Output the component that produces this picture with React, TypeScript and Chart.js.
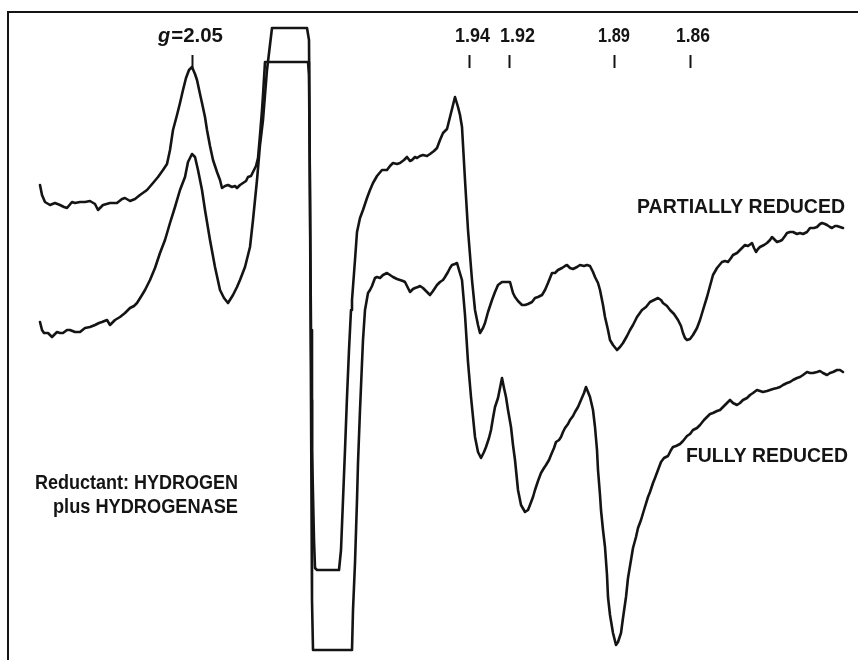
import { useEffect, useRef } from 'react';
import { Chart, registerables } from 'chart.js';

Chart.register(...registerables);

// EPR first-derivative traces: [magnetic field (mT), signal (arbitrary units)]
const partialTrace: [number, number][] = [
  [304.0, 475], [304.2, 465], [304.5, 458], [305.0, 455], [305.5, 457], [306.0, 455], [306.4, 453], [306.7, 452],
  [307.2, 458], [307.5, 457], [308.0, 458], [308.5, 458], [309.0, 459], [309.5, 456], [309.8, 450], [310.3, 455],
  [311.0, 457], [311.7, 457], [312.2, 461], [312.5, 462], [313.0, 459], [313.5, 461], [314.0, 465], [314.7, 470],
  [315.3, 477], [315.8, 483], [316.3, 490], [316.7, 496], [317.0, 510], [317.3, 530], [317.7, 545], [318.0, 557],
  [318.3, 570], [318.6, 582], [318.9, 590], [319.2, 593], [319.5, 586], [319.7, 580], [320.0, 566], [320.2, 557],
  [320.5, 543], [320.7, 530], [321.0, 514], [321.3, 500], [321.7, 488], [322.0, 480], [322.2, 472], [322.5, 474],
  [322.8, 475], [323.2, 473], [323.5, 474], [323.7, 472], [324.0, 475], [324.3, 477], [324.6, 479], [324.8, 483],
  [325.1, 484], [325.3, 488], [325.6, 494], [325.8, 502], [326.0, 525], [326.2, 550], [326.3, 565], [326.5, 598],
  [327.0, 598], [329.0, 598], [330.8, 598], [330.9, 585], [331.0, 460], [331.1, 330], [331.2, 210], [331.4, 120],
  [331.5, 92], [331.7, 90], [333.9, 90], [334.1, 110], [334.3, 160], [334.5, 210], [334.7, 263], [334.9, 310],
  [335.1, 350], [335.2, 360], [335.5, 400], [335.7, 428], [336.0, 442], [336.3, 450], [336.7, 462], [337.0, 470],
  [337.3, 477], [337.7, 484], [338.2, 490], [338.7, 490], [339.0, 494], [339.3, 497], [339.7, 496], [340.0, 497],
  [340.4, 500], [340.7, 503], [341.0, 499], [341.2, 500], [341.5, 503], [341.7, 502], [342.0, 504], [342.3, 505],
  [342.7, 504], [343.0, 506], [343.4, 509], [343.7, 512], [344.0, 520], [344.3, 527], [344.7, 531], [345.0, 543],
  [345.3, 555], [345.5, 563], [345.8, 553], [346.0, 545], [346.2, 533], [346.5, 480], [346.8, 430], [347.2, 380],
  [347.5, 350], [347.8, 335], [348.0, 327], [348.3, 332], [348.5, 337], [348.8, 348], [349.2, 360], [349.5, 368],
  [349.8, 375], [350.2, 378], [350.6, 378], [351.0, 378], [351.3, 367], [351.5, 363], [351.8, 359], [352.2, 355],
  [352.5, 355], [352.8, 356], [353.2, 358], [353.5, 362], [353.8, 363], [354.2, 365], [354.5, 370], [354.8, 377],
  [355.2, 387], [355.5, 387], [355.8, 390], [356.2, 392], [356.5, 394], [356.7, 395], [357.0, 392], [357.3, 391],
  [357.7, 393], [358.0, 395], [358.4, 394], [358.7, 395], [359.0, 394], [359.3, 388], [359.5, 383], [359.8, 377],
  [360.0, 370], [360.3, 355], [360.5, 343], [360.8, 330], [361.0, 320], [361.3, 315], [361.7, 310], [362.0, 313],
  [362.3, 317], [362.7, 324], [363.0, 330], [363.3, 335], [363.7, 343], [364.2, 350], [364.6, 353], [365.0, 358],
  [365.4, 360], [365.8, 362], [366.1, 360], [366.3, 357], [366.7, 354], [367.0, 350], [367.4, 346], [367.8, 340],
  [368.1, 334], [368.3, 327], [368.5, 322], [368.7, 320], [369.0, 321], [369.3, 325], [369.7, 332], [370.0, 340],
  [370.3, 350], [370.7, 363], [371.0, 374], [371.3, 385], [371.7, 392], [372.2, 398], [372.5, 399], [372.8, 398],
  [373.1, 402], [373.3, 405], [373.7, 407], [374.0, 410], [374.3, 413], [374.5, 415], [374.8, 414], [375.2, 417],
  [375.4, 412], [375.6, 408], [375.8, 411], [376.0, 413], [376.4, 415], [376.7, 417], [377.0, 420], [377.2, 423],
  [377.5, 420], [377.7, 418], [378.0, 419], [378.2, 420], [378.5, 424], [378.7, 427], [379.0, 428], [379.3, 428],
  [379.7, 426], [380.0, 427], [380.3, 426], [380.7, 428], [381.0, 432], [381.4, 432], [381.7, 433], [382.0, 436],
  [382.2, 437], [382.5, 436], [382.7, 435], [383.0, 433], [383.2, 432], [383.5, 434], [383.7, 434], [384.0, 433],
  [384.3, 432],
];

const fullTrace: [number, number][] = [
  [304.0, 338], [304.2, 330], [304.4, 327], [304.8, 327], [305.2, 323], [305.7, 328], [306.0, 327], [306.3, 327],
  [306.7, 330], [307.0, 330], [307.5, 328], [308.0, 328], [308.5, 332], [309.0, 333], [309.5, 335], [309.9, 337],
  [310.2, 338], [310.7, 340], [311.0, 335], [311.3, 338], [311.5, 340], [312.0, 343], [312.5, 347], [313.0, 352],
  [313.4, 354], [313.7, 357], [314.2, 365], [314.5, 370], [315.0, 380], [315.5, 392], [316.0, 407], [316.5, 420],
  [317.0, 437], [317.5, 453], [318.0, 470], [318.5, 483], [318.8, 498], [319.2, 506], [319.5, 503], [319.8, 490],
  [320.2, 470], [320.5, 450], [321.0, 420], [321.5, 393], [322.0, 370], [322.4, 362], [322.8, 357], [323.3, 365],
  [323.7, 373], [324.0, 380], [324.5, 393], [325.0, 413], [325.3, 440], [325.7, 480], [326.0, 515], [326.3, 540],
  [326.7, 590], [327.2, 632], [329.0, 632], [330.7, 632], [330.9, 620], [331.0, 460], [331.1, 260], [331.2, 60],
  [331.3, 10], [332.0, 10], [335.2, 10], [335.3, 50], [335.5, 97], [335.7, 160], [335.8, 197], [336.0, 250],
  [336.2, 297], [336.3, 320], [336.5, 350], [336.8, 367], [337.0, 370], [337.2, 374], [337.5, 382], [337.7, 383],
  [338.0, 382], [338.3, 385], [338.7, 387], [339.0, 385], [339.3, 383], [339.7, 381], [340.0, 380], [340.3, 379],
  [340.5, 378], [340.8, 372], [341.0, 368], [341.3, 371], [341.5, 372], [341.8, 373], [342.0, 374], [342.3, 372],
  [342.5, 370], [342.8, 367], [343.0, 365], [343.3, 369], [343.5, 372], [343.7, 375], [344.0, 378], [344.3, 380],
  [344.5, 383], [344.8, 388], [345.0, 392], [345.2, 395], [345.5, 396], [345.7, 397], [345.9, 390], [346.2, 380],
  [346.5, 345], [346.8, 298], [347.1, 263], [347.5, 223], [347.8, 208], [348.1, 202], [348.4, 208], [348.6, 213],
  [348.9, 222], [349.1, 230], [349.3, 242], [349.5, 253], [349.8, 262], [350.0, 272], [350.2, 282], [350.4, 272],
  [350.6, 263], [350.8, 250], [351.1, 233], [351.3, 215], [351.5, 200], [351.8, 170], [352.1, 155], [352.5, 148],
  [352.8, 150], [353.0, 155], [353.3, 163], [353.5, 170], [353.8, 179], [354.1, 187], [354.4, 192], [354.6, 195],
  [354.9, 200], [355.1, 205], [355.4, 212], [355.6, 218], [355.9, 220], [356.1, 223], [356.3, 228], [356.5, 232],
  [356.8, 236], [357.0, 240], [357.3, 244], [357.5, 248], [357.8, 253], [358.1, 260], [358.4, 267], [358.6, 273],
  [358.8, 268], [359.0, 263], [359.3, 250], [359.5, 233], [359.7, 210], [359.8, 190], [360.0, 165], [360.1, 150],
  [360.3, 130], [360.5, 113], [360.7, 85], [360.8, 63], [361.0, 45], [361.3, 27], [361.6, 15], [361.8, 18],
  [362.1, 27], [362.3, 42], [362.6, 63], [362.8, 82], [363.1, 100], [363.3, 112], [363.6, 123], [363.8, 132],
  [364.1, 140], [364.4, 150], [364.8, 163], [365.0, 168], [365.3, 177], [365.5, 182], [365.8, 190], [366.1, 198],
  [366.4, 202], [366.6, 203], [366.8, 204], [367.1, 210], [367.3, 213], [367.6, 214], [368.0, 216], [368.3, 219],
  [368.7, 224], [369.0, 226], [369.3, 230], [369.7, 232], [370.0, 235], [370.4, 240], [370.7, 243], [371.0, 246],
  [371.3, 247], [371.7, 249], [372.0, 250], [372.3, 253], [372.7, 257], [373.0, 260], [373.3, 257], [373.7, 255],
  [374.0, 257], [374.3, 260], [374.7, 262], [375.0, 265], [375.3, 267], [375.7, 270], [376.0, 269], [376.3, 268],
  [376.7, 269], [377.0, 270], [377.3, 271], [377.7, 272], [378.0, 273], [378.3, 275], [378.7, 277], [379.0, 278],
  [379.3, 280], [379.7, 282], [380.0, 283], [380.3, 285], [380.7, 288], [381.0, 287], [381.3, 287], [381.7, 288],
  [382.0, 289], [382.3, 287], [382.7, 285], [383.0, 287], [383.3, 288], [383.7, 290], [384.0, 290], [384.3, 288],
];

// g-value markers along the top of the spectrum
const gValues = ['2.05', '1.94', '1.92', '1.89', '1.86'];
const gTickField = [319.2, 346.9, 350.9, 361.4, 369.0];
const gLabelLeftField = [315.8, 345.5, 350.0, 359.8, 367.6];

const seriesNames = ['PARTIALLY REDUCED', 'FULLY REDUCED'];
const noteLines = ['Reductant: HYDROGEN', 'plus HYDROGENASE'];

// Axis extents (field in mT, signal in arbitrary units)
const FIELD_MIN = 300.8;
const FIELD_MAX = 385.8;
const SIGNAL_MIN = 0;
const SIGNAL_MAX = 648;

// Placement of text and marker strokes, in data units
const G_TICK_SPAN: [number, number] = [592, 605];
const G_LABEL_BASELINE = 618;
const G_LABEL_WIDTH = [65, 35, 35, 32, 34];
const SERIES_LABEL_RIGHT = [384.5, 384.8];
const SERIES_LABEL_BASELINE = [447, 198];
const SERIES_LABEL_WIDTH = [208, 162];
const NOTE_RIGHT = 323.8;
const NOTE_BASELINE = [171, 147];
const NOTE_WIDTH = [203, 185];

const INK = '#141414';
const FAMILY = '"Liberation Sans", Arial, sans-serif';

function fittedText(ctx: CanvasRenderingContext2D, text: string, left: number, baseline: number, width: number, font: string) {
  ctx.font = font;
  const natural = ctx.measureText(text).width;
  ctx.save();
  ctx.translate(left, baseline);
  ctx.scale(width / natural, 1);
  ctx.fillText(text, 0, 0);
  ctx.restore();
}

const annotations = {
  id: 'eprAnnotations',
  afterDatasetsDraw(chart: Chart) {
    const { ctx } = chart;
    const x = chart.scales.x;
    const y = chart.scales.y;
    ctx.save();
    ctx.fillStyle = INK;
    ctx.strokeStyle = INK;
    ctx.textAlign = 'left';
    ctx.textBaseline = 'alphabetic';

    // g-value ticks and labels
    ctx.lineWidth = 2;
    ctx.lineCap = 'butt';
    gValues.forEach((g, i) => {
      const px = Math.round(x.getPixelForValue(gTickField[i])) + 0.5;
      ctx.beginPath();
      ctx.moveTo(px, y.getPixelForValue(G_TICK_SPAN[1]));
      ctx.lineTo(px, y.getPixelForValue(G_TICK_SPAN[0]));
      ctx.stroke();

      const left = x.getPixelForValue(gLabelLeftField[i]);
      const base = y.getPixelForValue(G_LABEL_BASELINE);
      if (i === 0) {
        ctx.font = `italic bold 20px ${FAMILY}`;
        const gw = ctx.measureText('g').width;
        ctx.fillText('g', left, base);
        fittedText(ctx, `=${g}`, left + gw + 1, base, G_LABEL_WIDTH[i] - gw - 1, `bold 20px ${FAMILY}`);
      } else {
        fittedText(ctx, g, left, base, G_LABEL_WIDTH[i], `bold 20px ${FAMILY}`);
      }
    });

    // series names
    seriesNames.forEach((name, i) => {
      const right = x.getPixelForValue(SERIES_LABEL_RIGHT[i]);
      fittedText(ctx, name, right - SERIES_LABEL_WIDTH[i], y.getPixelForValue(SERIES_LABEL_BASELINE[i]), SERIES_LABEL_WIDTH[i], `bold 21px ${FAMILY}`);
    });

    // reductant note
    noteLines.forEach((line, i) => {
      const right = x.getPixelForValue(NOTE_RIGHT);
      fittedText(ctx, line, right - NOTE_WIDTH[i], y.getPixelForValue(NOTE_BASELINE[i]), NOTE_WIDTH[i], `bold 20px ${FAMILY}`);
    });

    ctx.restore();
  },
};

export default function App() {
  const canvasRef = useRef<HTMLCanvasElement>(null);

  useEffect(() => {
    const canvas = canvasRef.current;
    if (!canvas) return;
    const toPoints = (trace: [number, number][]) => trace.map(([field, signal]) => ({ x: field, y: signal }));
    const lineStyle = {
      borderColor: INK,
      borderWidth: 2.6,
      pointRadius: 0,
      tension: 0,
      fill: false,
      borderJoinStyle: 'round' as const,
      borderCapStyle: 'round' as const,
    };
    const chart = new Chart(canvas, {
      type: 'line',
      data: {
        datasets: [
          { label: seriesNames[0], data: toPoints(partialTrace), ...lineStyle },
          { label: seriesNames[1], data: toPoints(fullTrace), ...lineStyle },
        ],
      },
      options: {
        animation: false,
        responsive: false,
        maintainAspectRatio: false,
        devicePixelRatio: 1,
        events: [],
        layout: { padding: { left: 8, top: 12, right: 0, bottom: 0 } },
        plugins: {
          legend: { display: false },
          tooltip: { enabled: false },
          title: { display: false },
        },
        scales: {
          x: {
            type: 'linear',
            position: 'top',
            min: FIELD_MIN,
            max: FIELD_MAX,
            ticks: { display: false },
            grid: { display: false, drawTicks: false },
            border: { display: true, color: INK, width: 2 },
          },
          y: {
            type: 'linear',
            position: 'left',
            min: SIGNAL_MIN,
            max: SIGNAL_MAX,
            ticks: { display: false },
            grid: { display: false, drawTicks: false },
            border: { display: true, color: INK, width: 2 },
          },
        },
      },
      plugins: [annotations],
    });
    return () => chart.destroy();
  }, []);

  return (
    <div style={{ position: 'fixed', left: 0, top: 0, width: 858, height: 660, background: '#ffffff' }}>
      <canvas ref={canvasRef} width={858} height={660} style={{ display: 'block', width: 858, height: 660 }} />
    </div>
  );
}
